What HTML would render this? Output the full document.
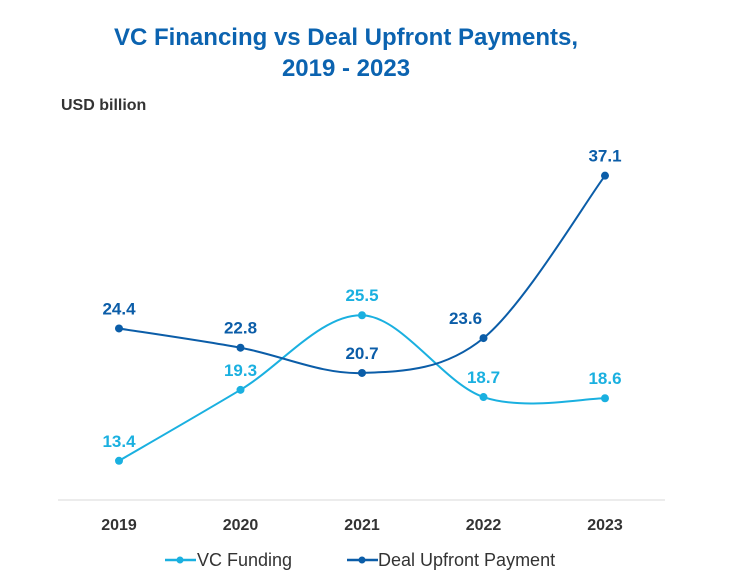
<!DOCTYPE html>
<html><head><meta charset="utf-8"><style>
body{margin:0;background:#fff;}
svg{display:block;font-family:"Liberation Sans",Arial,sans-serif;}
</style></head><body>
<svg width="739" height="586" viewBox="0 0 739 586">
<text x="346" y="45" text-anchor="middle" font-size="24" font-weight="bold" fill="#0B63B0">VC Financing vs Deal Upfront Payments,</text>
<text x="346" y="76" text-anchor="middle" font-size="24" font-weight="bold" fill="#0B63B0">2019 - 2023</text>
<text x="61" y="110" font-size="16" font-weight="bold" fill="#333">USD billion</text>
<line x1="58" y1="500" x2="665" y2="500" stroke="#d9d9d9" stroke-width="1"/>
<g id="plot"></g>
<g>
<line x1="165" y1="560" x2="196" y2="560" stroke="#1AB0E0" stroke-width="2.5"/>
<circle cx="180" cy="560" r="3.5" fill="#1AB0E0"/>
<text x="197" y="566" font-size="18" fill="#333">VC Funding</text>
<line x1="347" y1="560" x2="378" y2="560" stroke="#0B5DA8" stroke-width="2.5"/>
<circle cx="362" cy="560" r="3.5" fill="#0B5DA8"/>
<text x="378" y="566" font-size="18" fill="#333">Deal Upfront Payment</text>
</g>
</svg>
<script>
const years = ["2019","2020","2021","2022","2023"];
const vcFunding = [13.4, 19.3, 25.5, 18.7, 18.6];
const dealUpfront = [24.4, 22.8, 20.7, 23.6, 37.1];
const dealLabelDx = [0, 0, 0, -18, 0];

const NS = "http://www.w3.org/2000/svg";
const g = document.getElementById('plot');
function xScale(i){ return 119 + i * 121.5; }
function yScale(v){ return 622 - v * 12.03; }
function mk(tag, attrs){ const e=document.createElementNS(NS,tag); for(const k in attrs) e.setAttribute(k, attrs[k]); g.appendChild(e); return e; }
function pathFor(vals){
  const p = vals.map((v,i)=>[xScale(i), yScale(v)]);
  let d = `M${p[0][0]},${p[0][1]}`;
  for(let i=0;i<p.length-1;i++){
    const p0=p[Math.max(i-1,0)], p1=p[i], p2=p[i+1], p3=p[Math.min(i+2,p.length-1)];
    const c1=[p1[0]+(p2[0]-p0[0])/6, p1[1]+(p2[1]-p0[1])/6];
    const c2=[p2[0]-(p3[0]-p1[0])/6, p2[1]-(p3[1]-p1[1])/6];
    d += ` C${c1[0]},${c1[1]} ${c2[0]},${c2[1]} ${p2[0]},${p2[1]}`;
  }
  return d;
}
years.forEach((y,i)=>{
  const t = mk('text',{x:xScale(i), y:530, 'text-anchor':'middle','font-size':16,'font-weight':'bold',fill:'#333'});
  t.textContent = y;
  
  
});
function series(vals, color, name, dx){
  const path = mk('path',{d:pathFor(vals), fill:'none', stroke:color, 'stroke-width':2});
  
  
  vals.forEach((v,i)=>{
    const c = mk('circle',{cx:xScale(i), cy:yScale(v), r:4, fill:color});
    
    
    const t = mk('text',{x:xScale(i)+(dx?dx[i]:0), y:yScale(v)-14, 'text-anchor':'middle','font-size':17,'font-weight':'bold',fill:color});
    t.textContent = v.toFixed(1);
    
    
  });
}
series(vcFunding, '#1AB0E0', 'vc-funding', null);
series(dealUpfront, '#0B5DA8', 'deal-upfront', dealLabelDx);
</script>
</body></html>
